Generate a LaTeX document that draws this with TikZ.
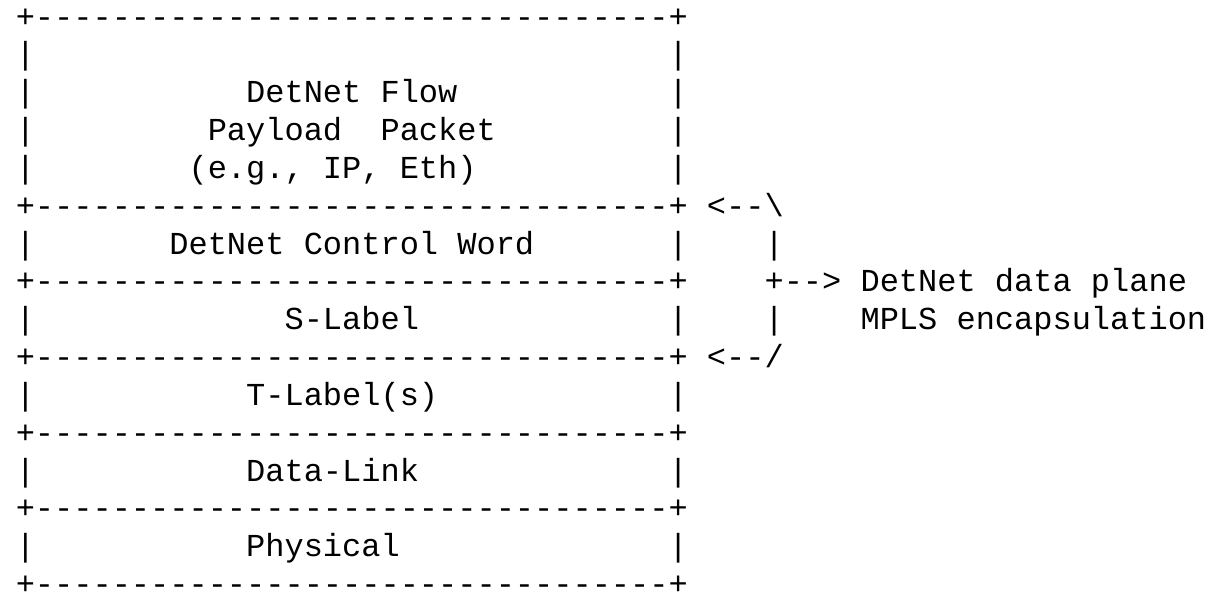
\documentclass[tikz,border=0pt]{standalone}
\usepackage{fontspec}
\setmonofont{Liberation Mono}
\usepackage{tikz}

\newcommand{\boxline}{+---------------------------------+}

\begin{document}
\begin{tikzpicture}[x=9.6pt, y=-18.92pt,
	ascii/.style={font=\ttfamily\fontsize{16pt}{18.92pt}\selectfont, inner sep=0pt, anchor=base west}]

	\useasboundingbox (-0.802,-0.7135) rectangle (62.22,15.063);

	% payload box
	\node[ascii] (b0) at (0, 0)      {\boxline};
	\node[ascii] (l1) at (0, 1)      {|};
	\node[ascii] (r1) at (34, 1)     {|};
	\node[ascii] (l2) at (0, 2)      {|};
	\node[ascii] (flow) at (12, 2)   {DetNet Flow};
	\node[ascii] (r2) at (34, 2)     {|};
	\node[ascii] (l3) at (0, 3)      {|};
	\node[ascii] (pay) at (10, 3)    {Payload\ \ Packet};
	\node[ascii] (r3) at (34, 3)     {|};
	\node[ascii] (l4) at (0, 4)      {|};
	\node[ascii] (eg) at (9, 4)      {(e.g., IP, Eth)};
	\node[ascii] (r4) at (34, 4)     {|};

	% control word and s-label
	\node[ascii] (b5) at (0, 5)      {\boxline};
	\node[ascii] (up) at (36, 5)     {<--\textbackslash};
	\node[ascii] (l6) at (0, 6)      {|};
	\node[ascii] (cw) at (8, 6)      {DetNet Control Word};
	\node[ascii] (r6) at (34, 6)     {|};
	\node[ascii] (v6) at (39, 6)     {|};
	\node[ascii] (b7) at (0, 7)      {\boxline};
	\node[ascii] (out) at (39, 7)    {+-->};
	\node[ascii] (dp) at (44, 7)     {DetNet data plane};
	\node[ascii] (l8) at (0, 8)      {|};
	\node[ascii] (sl) at (14, 8)     {S-Label};
	\node[ascii] (r8) at (34, 8)     {|};
	\node[ascii] (v8) at (39, 8)     {|};
	\node[ascii] (mpls) at (44, 8)   {MPLS encapsulation};
	\node[ascii] (b9) at (0, 9)      {\boxline};
	\node[ascii] (down) at (36, 9)   {<--/};

	% lower layers
	\node[ascii] (l10) at (0, 10)    {|};
	\node[ascii] (tl) at (12, 10)    {T-Label(s)};
	\node[ascii] (r10) at (34, 10)   {|};
	\node[ascii] (b11) at (0, 11)    {\boxline};
	\node[ascii] (l12) at (0, 12)    {|};
	\node[ascii] (dl) at (12, 12)    {Data-Link};
	\node[ascii] (r12) at (34, 12)   {|};
	\node[ascii] (b13) at (0, 13)    {\boxline};
	\node[ascii] (l14) at (0, 14)    {|};
	\node[ascii] (phy) at (12, 14)   {Physical};
	\node[ascii] (r14) at (34, 14)   {|};
	\node[ascii, text depth=0pt] (b15) at (0, 15) {\boxline};

\end{tikzpicture}
\end{document}
